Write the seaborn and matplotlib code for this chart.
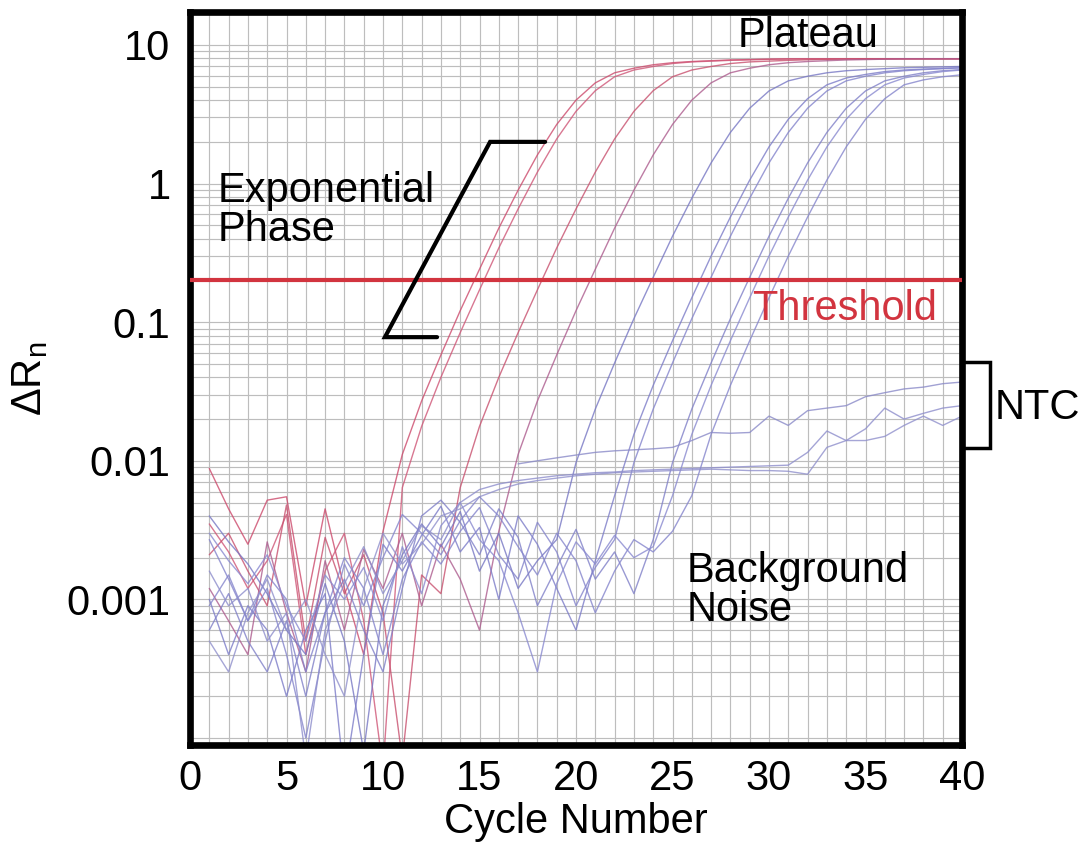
import numpy as np
import pandas as pd
import matplotlib
matplotlib.use("Agg")
import matplotlib.pyplot as plt
import seaborn as sns
from matplotlib.ticker import FixedLocator, MultipleLocator, LogLocator, NullFormatter

# ---------------- data ----------------
cycles = list(range(1, 41))

red_A = [0.0088, 0.0045, 0.0025, 0.0052, 0.0055, 0.0009, 0.0045, 0.0012, 0.0004, 0.0031,
         0.0111, 0.027, 0.058, 0.121, 0.241, 0.477, 0.896, 1.61, 2.67, 4.0,
         5.33, 6.3, 6.8, 7.2, 7.45, 7.6, 7.7, 7.8, 7.85, 7.9,
         7.95, 7.95, 7.95, 7.95, 7.95, 7.95, 7.95, 7.95, 7.95, 7.95]
red_A2 = [0.0035, 0.0022, 0.0012, 0.0019, 0.0041, 0.0004, 0.0016, 0.0030, 0.0007, 0.00006,
          0.0064, 0.0177, 0.040, 0.084, 0.171, 0.343, 0.656, 1.21, 2.10, 3.32,
          4.68, 5.90, 6.6, 7.0, 7.35, 7.55, 7.65, 7.75, 7.82, 7.88,
          7.92, 7.95, 7.95, 7.95, 7.95, 7.95, 7.95, 7.95, 7.95, 7.95]
red_B = [0.0021, 0.0030, 0.0016, 0.0009, 0.0048, 0.0005, 0.0028, 0.0011, 0.0021, 0.0008,
         0.00007, 0.0015, 0.0011, 0.0064, 0.0177, 0.040, 0.084, 0.171, 0.343, 0.656,
         1.21, 2.10, 3.32, 4.68, 5.90, 6.6, 7.0, 7.35, 7.55, 7.65,
         7.75, 7.82, 7.88, 7.92, 7.95, 7.95, 7.95, 7.95, 7.95, 7.95]
red_C = [0.0012, 0.0007, 0.0004, 0.0026, 0.0008, 0.0003, 0.0019, 0.0006, 0.0023, 0.0012,
         0.0030, 0.0009, 0.0025, 0.0014, 0.0006, 0.0031, 0.0111, 0.027, 0.058, 0.121,
         0.241, 0.477, 0.896, 1.61, 2.67, 4.0, 5.33, 6.3, 6.8, 7.2,
         7.45, 7.6, 7.7, 7.8, 7.85, 7.9, 7.95, 7.95, 7.95, 7.95]
blue_D = [0.0040, 0.0026, 0.0018, 0.0011, 0.0006, 0.0004, 0.0013, 0.0005, 0.00008, 0.0009,
          0.0021, 0.0035, 0.0024, 0.0043, 0.0016, 0.0030, 0.0012, 0.0019, 0.0027, 0.0097,
          0.0236, 0.0508, 0.106, 0.211, 0.417, 0.784, 1.41, 2.34, 3.5, 4.66,
          5.51, 5.95, 6.3, 6.52, 6.65, 6.75, 6.85, 6.9, 6.95, 7.0]
blue_E = [0.0010, 0.0004, 0.0009, 0.0006, 0.0002, 0.0006, 0.0011, 0.00005, 0.0004, 0.0025,
          0.0016, 0.0029, 0.0047, 0.0022, 0.0033, 0.0010, 0.0040, 0.0025, 0.0012, 0.0006,
          0.0019, 0.0056, 0.0155, 0.035, 0.0735, 0.150, 0.300, 0.574, 1.06, 1.84,
          2.91, 4.10, 5.16, 5.78, 6.13, 6.43, 6.6, 6.7, 6.78, 6.85]
blue_E2 = [0.0027, 0.0014, 0.0007, 0.0015, 0.0010, 0.0003, 0.0008, 0.0020, 0.0012, 0.0004,
           0.0014, 0.0026, 0.0018, 0.0031, 0.0046, 0.0021, 0.0014, 0.0036, 0.0022, 0.0009,
           0.0017, 0.0027, 0.0097, 0.0236, 0.0508, 0.106, 0.211, 0.417, 0.784, 1.41,
           2.34, 3.5, 4.66, 5.51, 5.95, 6.3, 6.52, 6.65, 6.75, 6.85]
blue_F = [0.0006, 0.0011, 0.0005, 0.0003, 0.0007, 0.0002, 0.0008, 0.0014, 0.0006, 0.0003,
          0.0012, 0.0040, 0.0052, 0.0036, 0.0021, 0.0045, 0.0028, 0.0009, 0.0017, 0.0032,
          0.0014, 0.0022, 0.0011, 0.0027, 0.0097, 0.0236, 0.0508, 0.106, 0.211, 0.417,
          0.784, 1.41, 2.34, 3.5, 4.66, 5.51, 5.95, 6.3, 6.52, 6.65]
blue_G = [0.0030, 0.0019, 0.0013, 0.0021, 0.0009, 0.0005, 0.0015, 0.0010, 0.0017, 0.0007,
          0.0024, 0.0011, 0.0034, 0.0050, 0.0027, 0.0019, 0.0008, 0.0003, 0.0013, 0.0026,
          0.0018, 0.0029, 0.0020, 0.0024, 0.0056, 0.0155, 0.035, 0.0735, 0.150, 0.300,
          0.574, 1.06, 1.84, 2.91, 4.10, 5.16, 5.78, 6.13, 6.43, 6.6]
blue_H = [0.0009, 0.0015, 0.0007, 0.0012, 0.0004, 0.0001, 0.0005, 0.0018, 0.0009, 0.0020,
          0.0041, 0.0030, 0.0021, 0.0037, 0.0055, 0.0040, 0.0024, 0.0015, 0.0030, 0.0019,
          0.0008, 0.0016, 0.0027, 0.0022, 0.0031, 0.0056, 0.0155, 0.035, 0.0735, 0.150,
          0.300, 0.574, 1.06, 1.84, 2.91, 4.10, 5.16, 5.6, 5.9, 6.1]
ntc_1 = [np.nan] * 16 + [0.0095, 0.010, 0.0105, 0.011, 0.0115, 0.0118, 0.012, 0.0122, 0.0125, 0.014,
                         0.016, 0.0158, 0.016, 0.021, 0.018, 0.023, 0.024, 0.025, 0.029, 0.031,
                         0.033, 0.034, 0.036, 0.037]
ntc_2 = [0.0016, 0.0009, 0.0012, 0.0005, 0.0008, 0.00007, 0.0006, 0.0013, 0.0024, 0.0011,
         0.0019, 0.0034, 0.0027, 0.0050, 0.0062, 0.0068, 0.0072, 0.0075, 0.0078, 0.0080,
         0.0082, 0.0083, 0.0085, 0.0086, 0.0087, 0.0088, 0.0089, 0.0090, 0.0091, 0.0092,
         0.0093, 0.0115, 0.0164, 0.0140, 0.0170, 0.0240, 0.0200, 0.0220, 0.0240, 0.0250]
ntc_3 = [0.0005, 0.0003, 0.0008, 0.0014, 0.0006, 0.0010, 0.0004, 0.0002, 0.0012, 0.0030,
         0.0018, 0.0025, 0.0040, 0.0045, 0.0055, 0.0062, 0.0068, 0.0072, 0.0075, 0.0078,
         0.0080, 0.0082, 0.0083, 0.0084, 0.0085, 0.0086, 0.0087, 0.0086, 0.0085, 0.0085,
         0.0084, 0.0080, 0.0125, 0.0140, 0.0140, 0.0150, 0.0180, 0.0210, 0.0180, 0.0210]

threshold = 0.2
y_tick_values = [0.001, 0.01, 0.1, 1, 10]
y_tick_labels = ["0.001", "0.01", "0.1", "1", "10"]
x_tick_values = [0, 5, 10, 15, 20, 25, 30, 35, 40]

wells = {
    "A": red_A, "A2": red_A2, "B": red_B, "C": red_C,
    "D": blue_D, "E": blue_E, "E2": blue_E2, "F": blue_F, "G": blue_G, "H": blue_H,
    "N1": ntc_1, "N2": ntc_2, "N3": ntc_3,
}
palette = {
    "A": "#cc4a6c", "A2": "#cf5677", "B": "#c8506e", "C": "#ad5c8e",
    "D": "#7777c4", "E": "#7c7cc8", "E2": "#8484cc", "F": "#8080c8", "G": "#8a8ad0", "H": "#8585cc",
    "N1": "#8a8ac8", "N2": "#8e8ecc", "N3": "#9090cc",
}

rows = []
for name, vals in wells.items():
    for c, v in zip(cycles, vals):
        rows.append({"cycle": c, "dRn": v, "well": name})
df = pd.DataFrame(rows)

# ---------------- figure ----------------
sns.set_style("white")
plt.rcParams["font.family"] = ["Liberation Sans", "DejaVu Sans"]
plt.rcParams["mathtext.default"] = "regular"
plt.rcParams["text.color"] = "black"
plt.rcParams["axes.labelcolor"] = "black"
plt.rcParams["xtick.color"] = "black"
plt.rcParams["ytick.color"] = "black"

fig = plt.figure(figsize=(10.89, 8.65), dpi=100)
ax = fig.add_axes([190 / 1089, 1 - 745 / 865, (962 - 190) / 1089, (745 - 12) / 865])

sns.lineplot(data=df, x="cycle", y="dRn", hue="well", palette=palette,
             estimator=None, legend=False, linewidth=1.0, alpha=0.8, ax=ax,
             hue_order=list(wells.keys()))

ax.set_yscale("log")
ax.set_xlim(0, 40)
ax.set_ylim(8.9e-5, 17.3)

ax.axhline(threshold, color="#d2343f", linewidth=3.0, zorder=5)

# grid
ax.xaxis.set_major_locator(FixedLocator(x_tick_values))
ax.xaxis.set_minor_locator(MultipleLocator(1))
ax.yaxis.set_major_locator(FixedLocator(y_tick_values))
ax.set_yticklabels(y_tick_labels)
ax.yaxis.set_minor_locator(LogLocator(base=10, subs=np.arange(1, 10), numticks=50))
ax.yaxis.set_minor_formatter(NullFormatter())
ax.grid(True, which="both", color="#bdbdbd", linewidth=0.85)
ax.set_axisbelow(True)
ax.tick_params(which="both", length=0)
ax.tick_params(axis="x", labelsize=30, pad=10, labelcolor="black")
ax.tick_params(axis="y", labelsize=30, pad=14, labelcolor="black")

for sp in ax.spines.values():
    sp.set_visible(True)
    sp.set_linewidth(4.8)
    sp.set_color("black")

ax.set_xlabel("Cycle Number", fontsize=30, labelpad=2, color="black")
ax.set_ylabel(r"$\Delta R_n$", fontsize=30, labelpad=12, color="black")

# annotations
ax.text(32.0, 11.6, "Plateau", fontsize=30, ha="center", va="center", color="black", zorder=6)
ax.text(1.45, 0.64, "Exponential\nPhase", fontsize=30, ha="left", va="center",
        linespacing=0.95, color="black", zorder=6)
ax.text(33.9, 0.124, "Threshold", fontsize=30, ha="center", va="center",
        color="#d2343f", zorder=6)
ax.text(25.75, 0.00116, "Background\nNoise", fontsize=30, ha="left", va="center",
        linespacing=0.95, color="black", zorder=6)
ax.text(41.7, 0.0242, "NTC", fontsize=30, ha="left", va="center", color="black", clip_on=False)

# exponential phase bracket
ax.plot([18.4, 15.55, 10.1, 12.8], [2.0, 2.0, 0.078, 0.078], color="black",
        linewidth=3.0, solid_joinstyle="miter", zorder=6)
# NTC bracket
ax.plot([40.16, 41.45, 41.45, 40.16], [0.0513, 0.0513, 0.0124, 0.0124], color="black",
        linewidth=2.5, clip_on=False, solid_joinstyle="miter", zorder=6)

fig.savefig("out.png", dpi=100)
